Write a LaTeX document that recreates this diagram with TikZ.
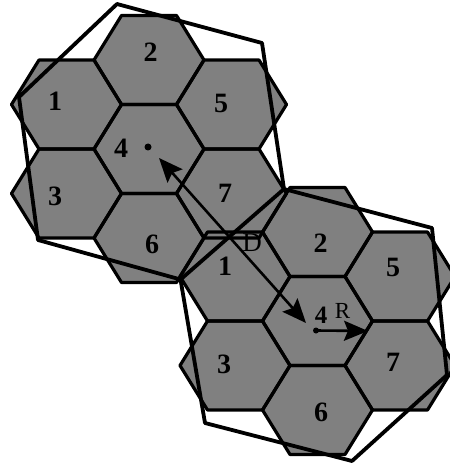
\documentclass[tikz,border=0pt]{standalone}
\usepackage{fontspec}
\setmainfont{Liberation Serif}
\usetikzlibrary{arrows.meta}
\tikzset{
  cell/.style={fill=black!50, draw=none},
  celledge/.style={draw=black, line width=3.2pt, line join=round},
  clusterline/.style={draw=black, line width=3.8pt, line join=round},
  num/.style={font=\fontsize{28}{28}\selectfont\bfseries, inner sep=0pt},
  lbl/.style={font=\fontsize{27}{27}\selectfont, inner sep=0pt},
  dot/.style={circle, fill=black, inner sep=0pt, minimum size=7pt},
  move/.style={draw=black, line width=2.6pt},
  bigtip/.tip={Stealth[length=24pt,width=20pt,inset=4pt]}
}
\begin{document}
\begin{tikzpicture}[x=1pt,y=-1pt]
\useasboundingbox (0,0) rectangle (449,465);
% hexagon fills
\foreach \cx/\cy in {66.5/104.5,149/60,66.5/193.5,149/149,231.5/104.5,149/238,231.5/193.5,
                     235/276.5,317.5/232,235/365.5,317.5/321,400/276.5,317.5/410,400/365.5}
  \path[cell] (\cx+55,\cy) -- (\cx+27.5,\cy+44.5) -- (\cx-27.5,\cy+44.5) -- (\cx-55,\cy)
     -- (\cx-27.5,\cy-44.5) -- (\cx+27.5,\cy-44.5) -- cycle;
% hexagon edges
\foreach \cx/\cy in {66.5/104.5,149/60,66.5/193.5,149/149,231.5/104.5,149/238,231.5/193.5,
                     235/276.5,317.5/232,235/365.5,317.5/321,400/276.5,317.5/410,400/365.5}
  \path[celledge] (\cx+55,\cy) -- (\cx+27.5,\cy+44.5) -- (\cx-27.5,\cy+44.5) -- (\cx-55,\cy)
     -- (\cx-27.5,\cy-44.5) -- (\cx+27.5,\cy-44.5) -- cycle;
% cluster outlines
\coordinate (at) at (117,4);
\coordinate (atr) at (262,43);
\coordinate (ja) at (284,189);
\coordinate (jb) at (180.5,279.5);
\coordinate (abl) at (38,240);
\coordinate (al) at (19,97);
\coordinate (btr) at (432,228);
\coordinate (br) at (447,375);
\coordinate (bb) at (352,461);
\coordinate (bbl) at (205,423);
\draw[clusterline] (at) -- (atr) -- (ja) -- (jb) -- (abl) -- (al) -- cycle;
\draw[clusterline] (ja) -- (btr) -- (br) -- (bb) -- (bbl) -- (jb);
% dots and arrows
\node[dot] (pA) at (148,147) {};
\node[dot, minimum size=6pt] (pB) at (316,330.5) {};
\coordinate (tipA) at (159,158);
\coordinate (tipB) at (306,323);
\coordinate (tipR) at (368,331);
\draw[move, {bigtip}-{bigtip}] (tipA) -- (tipB);
\draw[move, -{bigtip}] (pB.center) -- (tipR);
% labels cluster A
\node[num] (a1) at (55,101) {1};
\node[num] (a2) at (150.5,52.5) {2};
\node[num] (a3) at (55,196) {3};
\node[num] (a4) at (121,148) {4};
\node[num] (a5) at (221,103) {5};
\node[num] (a6) at (152,244) {6};
\node[num] (a7) at (225,193) {7};
% labels cluster B
\node[num] (b1) at (225,266) {1};
\node[num] (b2) at (320.5,243.5) {2};
\node[num] (b3) at (224,364) {3};
\node[num, font=\fontsize{25}{25}\selectfont\bfseries] (b4) at (321,315) {4};
\node[num] (b5) at (393,267) {5};
\node[num] (b6) at (321,412) {6};
\node[num] (b7) at (393,362) {7};
\node[lbl] (d) at (252,243) {D};
\node[lbl, font=\fontsize{23}{23}\selectfont] (r) at (342.5,311) {R};
\end{tikzpicture}
\end{document}
